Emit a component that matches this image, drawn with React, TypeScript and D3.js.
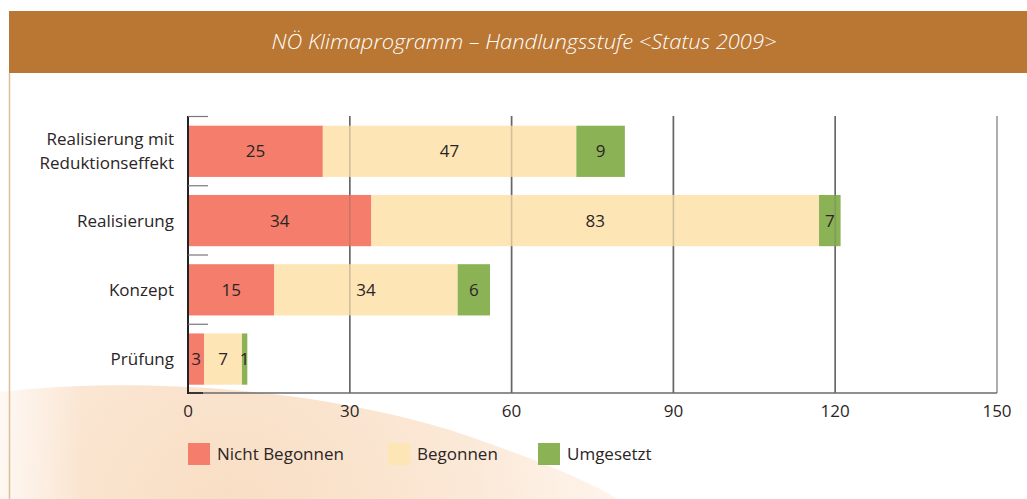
import React from "react";
import * as d3 from "d3";

const categories = ["Realisierung mit\nReduktionseffekt", "Realisierung", "Konzept", "Prüfung"];
const nichtBegonnen = [25, 34, 15, 3];
const begonnen = [47, 83, 34, 7];
const umgesetzt = [9, 7, 6, 1];
// bar lengths as drawn in the original, which don't always agree with their labels
const nichtBegonnenBar = [25, 34, 16, 3];
const umgesetztBar = [9, 4, 6, 1];
const xTicks = [0, 30, 60, 90, 120, 150];
const seriesNames = ["Nicht Begonnen", "Begonnen", "Umgesetzt"];
const colors = ["#F47D6B", "#FEE5B5", "#8BB356"];

const W = 1027;
const H = 499;
const margin = { top: 116, left: 188, right: 30, bottom: 106 };
const FONT = "'Open Sans', 'Noto Sans', sans-serif";

export default function App() {
  const x = d3.scaleLinear().domain([0, 150]).range([margin.left, margin.left + 809]);
  const y = d3.scaleBand().domain(categories).range([margin.top, H - margin.bottom]).padding(0);
  const bw = y.bandwidth();
  const barOff = bw * 0.14;
  const barH = bw * 0.74;

  const rows = categories.map((c, i) => {
    const vals = [nichtBegonnenBar[i], begonnen[i], umgesetztBar[i]];
    const labels = [nichtBegonnen[i], begonnen[i], umgesetzt[i]];
    let acc = 0;
    return vals.map((v, j) => {
      const seg = { cat: c, x0: acc, x1: acc + v, label: labels[j], color: colors[j] };
      acc += v;
      return seg;
    });
  });

  const bottom = H - margin.bottom;

  return (
    <svg width={W} height={H} style={{ position: "absolute", left: 0, top: 0, background: "#fff" }}>
      <defs>
        <radialGradient id="swoosh" gradientUnits="userSpaceOnUse" cx={230} cy={520} r={430}>
          <stop offset="0" stopColor="#F8DDC2" />
          <stop offset="0.55" stopColor="#FBE8D6" />
          <stop offset="1" stopColor="#FFF8F2" />
        </radialGradient>
        <linearGradient id="fadeLeft" x1="0" x2="1" y1="0" y2="0">
          <stop offset="0" stopColor="#fff" stopOpacity={0.7} />
          <stop offset="0.08" stopColor="#fff" stopOpacity={0} />
        </linearGradient>
      </defs>
      <rect x={0} y={0} width={W} height={H} fill="#fff" />
      <path d={`M0,392 C120,378 300,384 450,430 C540,460 590,482 618,${H} L0,${H} Z`} fill="url(#swoosh)" />
      <rect x={0} y={380} width={W} height={H - 380} fill="url(#fadeLeft)" />

      {/* title bar */}
      <rect x={9} y={11} width={W - 9} height={62} fill="#B97733" />
      <text
        x={524}
        y={49}
        textAnchor="middle"
        fill="#fff"
        fontStyle="italic"
        fontWeight={300}
        fontSize={20}
        fontFamily={FONT}
        textLength={505}
        lengthAdjust="spacingAndGlyphs"
      >
        NÖ Klimaprogramm – Handlungsstufe &lt;Status 2009&gt;
      </text>
      <line x1={9.5} x2={9.5} y1={73} y2={H} stroke="#DDBF98" strokeWidth={1.5} />

      {/* grid under bars */}
      {xTicks.slice(1).map((t) => (
        <line key={"g" + t} x1={x(t)} x2={x(t)} y1={margin.top} y2={bottom}
          stroke={t === 150 ? "#9a9a9a" : "#666"} strokeWidth={1.6} />
      ))}

      {/* bars */}
      {rows.map((segs, i) => (
        <g key={i}>
          {segs.map((s, j) => (
            <rect key={j} x={x(s.x0)} y={(y(s.cat) as number) + barOff}
              width={x(s.x1) - x(s.x0)} height={barH} fill={s.color} />
          ))}
        </g>
      ))}

      {/* grid faintly over bars */}
      {xTicks.slice(1, 5).map((t) => (
        <line key={"o" + t} x1={x(t)} x2={x(t)} y1={margin.top} y2={bottom}
          stroke="#666" strokeWidth={1.6} strokeOpacity={0.3} />
      ))}

      {/* value labels */}
      {rows.map((segs, i) =>
        segs.map((s, j) => (
          <text key={i + "-" + j} x={(x(s.x0) + x(s.x1)) / 2}
            y={(y(s.cat) as number) + barOff + barH / 2 + 6}
            textAnchor="middle" fontSize={17} fontFamily={FONT} fill="#2b2526">
            {s.label}
          </text>
        ))
      )}

      {/* axes */}
      <line x1={x(0)} x2={x(150)} y1={bottom} y2={bottom} stroke="#6b6b6b" strokeWidth={1.6} />
      <line x1={x(0)} x2={x(0)} y1={margin.top} y2={bottom + 1} stroke="#222" strokeWidth={2} />
      {categories.map((c) => (
        <line key={"t" + c} x1={x(0)} x2={x(0) + 20} y1={(y(c) as number) + 0.5} y2={(y(c) as number) + 0.5}
          stroke="#777" strokeWidth={1.2} />
      ))}
      <line x1={x(0)} x2={x(0) + 15} y1={bottom} y2={bottom} stroke="#222" strokeWidth={1.6} />

      {xTicks.map((t) => (
        <text key={"l" + t} x={x(t)} y={417} textAnchor="middle" fontSize={17} fontFamily={FONT} fill="#2b2526">
          {t}
        </text>
      ))}

      {categories.map((c) => {
        const lines = c.split("\n");
        const cy = (y(c) as number) + barOff + barH / 2;
        const lh = 24;
        return (
          <text key={"c" + c} x={175} textAnchor="end" fontSize={17} fontFamily={FONT} fill="#2b2526">
            {lines.map((ln, k) => (
              <tspan key={k} x={174} y={cy + 6 - ((lines.length - 1) * lh) / 2 + k * lh}>
                {ln}
              </tspan>
            ))}
          </text>
        );
      })}

      {/* legend */}
      {seriesNames.map((n, i) => {
        const lx = [188, 388, 538][i];
        return (
          <g key={n}>
            <rect x={lx} y={443} width={22} height={22} fill={colors[i]} />
            <text x={lx + 29} y={460} fontSize={17} fontFamily={FONT} fill="#2b2526">
              {n}
            </text>
          </g>
        );
      })}
    </svg>
  );
}
